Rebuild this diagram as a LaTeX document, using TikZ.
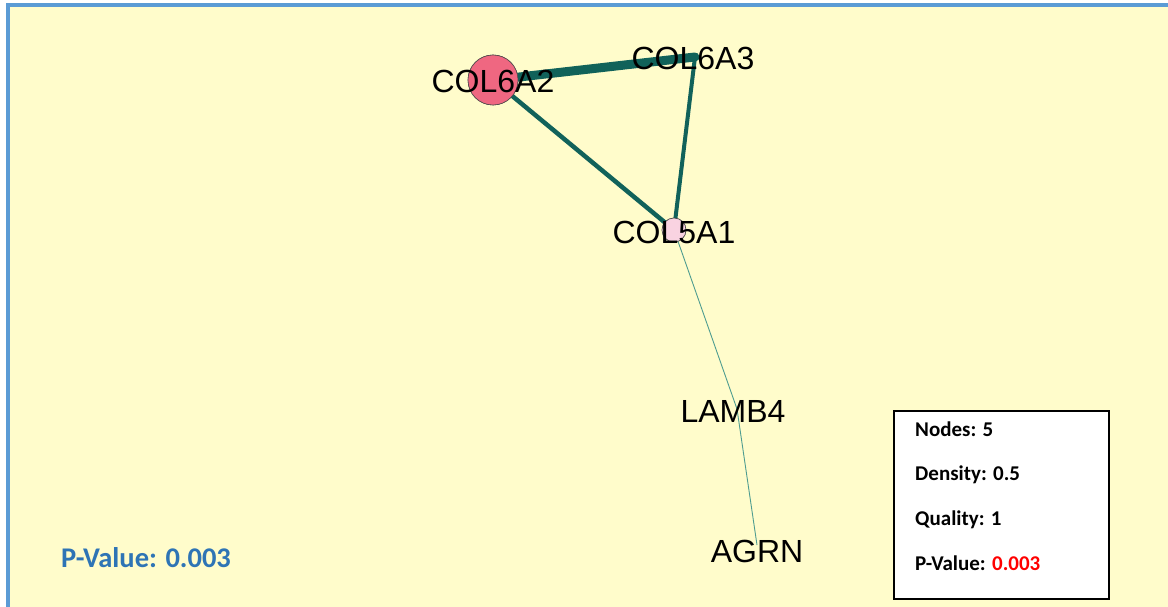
\documentclass[tikz,border=0pt]{standalone}
\usepackage{fontspec}
\setmainfont{Liberation Sans}
\newfontfamily\calib{Carlito}
\definecolor{bgyellow}{HTML}{FFFCCB}
\definecolor{frameblue}{HTML}{5B9BD5}
\definecolor{edgeteal}{HTML}{11625A}
\definecolor{thinteal}{HTML}{4E9C90}
\definecolor{hubpink}{HTML}{EF6781}
\definecolor{lightpink}{HTML}{F9D3E1}
\definecolor{pvblue}{HTML}{2E74B5}
\definecolor{pvred}{HTML}{FF0000}
\tikzset{
  gene/.style={font=\fontsize{32}{32}\selectfont, inner sep=0pt, text=black},
  vtx/.style={circle, draw=black!70, line width=0.6pt, inner sep=0pt},
  thickedge/.style={draw=edgeteal, line cap=round},
  thinedge/.style={draw=thinteal, line width=0.9pt},
  stat/.style={font=\calib\bfseries\fontsize{21}{21}\selectfont, anchor=base west, inner sep=0pt},
}
\begin{document}
\begin{tikzpicture}[x=1pt,y=-1pt]
\useasboundingbox (0,0) rectangle (1168,607);
\fill[white] (0,0) rectangle (1168,607);
\fill[frameblue] (6,3) rectangle (1168,607);
\fill[bgyellow] (10,7) rectangle (1168,607);

% vertices
\coordinate (v6a3) at (695,57);
\coordinate (vlamb) at (737,409);
\coordinate (vagrn) at (757,545);
\path (493,80) node[vtx, fill=hubpink, minimum size=50pt] (v6a2) {};
\path (674,230) node[vtx, fill=lightpink, minimum size=24pt] (v5a1) {};

% edges
\draw[thickedge, line width=9pt] (v6a2.center) -- (v6a3);
\draw[thickedge, line width=4.5pt] (v6a2.center) -- (v5a1.center);
\draw[thickedge, line width=4pt] (v6a3) -- (v5a1.center);
\draw[thinedge] (v5a1.center) -- (vlamb);
\draw[thinedge] (vlamb) -- (vagrn);

% vertex discs over edges
\path (493,80) node[vtx, fill=hubpink, minimum size=50pt] (v6a2top) {};
\path (674,230) node[vtx, fill=lightpink, minimum size=24pt] (v5a1top) {};

% labels
\node[gene] (l6a2) at (493,81) {COL6A2};
\node[gene] (l6a3) at (693,58) {COL6A3};
\node[gene] (l5a1) at (674,232.5) {COL5A1};
\node[gene] (llamb) at (733,411) {LAMB4};
\node[gene] (lagrn) at (757,551) {AGRN};

% bottom-left p-value
\node[font=\calib\bfseries\fontsize{28.5}{28.5}\selectfont, text=pvblue, anchor=base west, inner sep=0pt] (pv) at (61,567) {P-Value: 0.003};

% stats box
\node[draw=black, line width=1.6pt, fill=white, minimum width=215pt, minimum height=188pt, anchor=north west, inner sep=0pt] (box) at (893,410) {};
\node[stat] (s1) at (915,436) {Nodes: 5};
\node[stat] (s2) at (915,480) {Density: 0.5};
\node[stat] (s3) at (915,525) {Quality: 1};
\node[stat] (s4) at (915,570) {P-Value: \textcolor{pvred}{0.003}};
\end{tikzpicture}
\end{document}
